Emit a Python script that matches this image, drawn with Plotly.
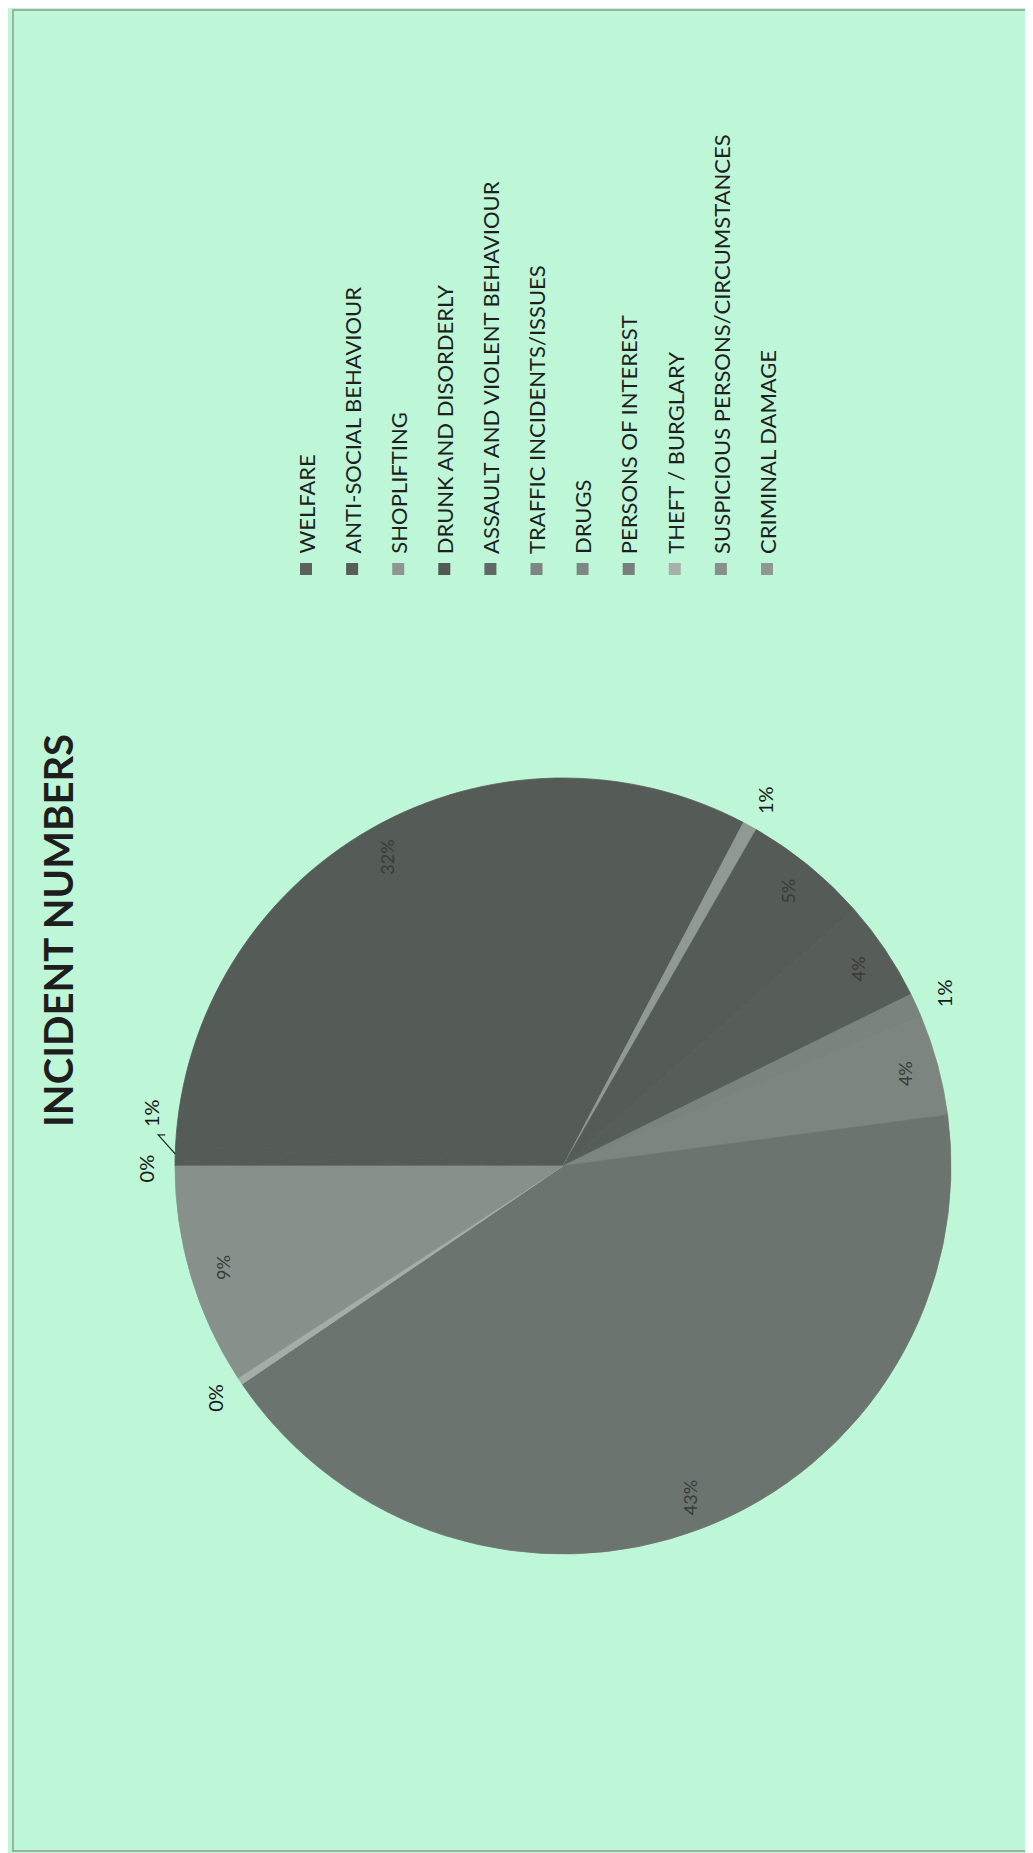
import math
import plotly.graph_objects as go

# ---------------- data ----------------
categories = [
    "WELFARE", "ANTI-SOCIAL BEHAVIOUR", "SHOPLIFTING", "DRUNK AND DISORDERLY",
    "ASSAULT AND VIOLENT BEHAVIOUR", "TRAFFIC INCIDENTS/ISSUES", "DRUGS",
    "PERSONS OF INTEREST", "THEFT / BURGLARY", "SUSPICIOUS PERSONS/CIRCUMSTANCES",
    "CRIMINAL DAMAGE",
]
shares = [0.2, 0.6, 31.9, 0.6, 5.2, 4.2, 1.0, 4.2, 42.6, 0.3, 9.2]  # percent
slice_colors = ["#555b57", "#555b57", "#555b57", "#909994", "#555b57", "#575d59",
                "#7a837e", "#7c8580", "#6c7470", "#a4ada8", "#88908b"]
swatch_colors = ["#5d625f", "#585d5a", "#8e9691", "#525854", "#626864", "#7d8580",
                 "#7f8782", "#777f7a", "#a8b0ab", "#88908b", "#8f9792"]
title_text = "INCIDENT NUMBERS"

# ---------------- layout constants (pixels) ----------------
W, H = 1033, 1853
BG = "#bef7d8"
CX, CY, R = 555, 1158, 388
R_IN, R_OUT = 355, 418
INSIDE_MIN = 3.0
OUT_NUDGE = {0: (1, 5), 1: (6, -40)}   # label nudges to avoid overlap
LEADER = {1}
FONT = "Lato"


def px(x):
    return x / W


def py(y):
    return 1 - y / H


fig = go.Figure()
fig.add_trace(go.Pie(
    labels=categories, values=shares, sort=False, direction="clockwise",
    rotation=270,
    marker=dict(colors=slice_colors, line=dict(color=slice_colors, width=0.8)),
    textinfo="none", hoverinfo="label+percent", showlegend=False,
    domain=dict(x=[px(CX - R), px(CX + R)], y=[py(CY + R), py(CY - R)]),
))

annotations = []
shapes = []

total = sum(shares)
cum = 0.0
for i, v in enumerate(shares):
    mid = (cum + v / 2) / total
    cum += v
    phi = math.radians(270 + 360 * mid)
    sx, sy = math.sin(phi), -math.cos(phi)
    label = f"{round(v / total * 100)}%"
    if v >= INSIDE_MIN:
        x, y = CX + R_IN * sx, CY + R_IN * sy
        annotations.append(dict(
            x=px(x), y=py(y), xref="paper", yref="paper", text=label,
            showarrow=False, textangle=-90, xanchor="center", yanchor="middle",
            font=dict(family=FONT, size=18, color="#373c39")))
    else:
        dx, dy = OUT_NUDGE.get(i, (0, 0))
        x, y = CX + R_OUT * sx + dx, CY + R_OUT * sy + dy
        annotations.append(dict(
            x=px(x), y=py(y), xref="paper", yref="paper", text=label,
            showarrow=False, textangle=-90, xanchor="center", yanchor="middle",
            font=dict(family=FONT, size=20, color="#1a1a1a")))
        if i in LEADER:
            ex, ey = CX + R * sx, CY + R * sy
            lx, ly = x + 7, y + 22
            shapes.append(dict(type="path", xref="paper", yref="paper",
                               path=f"M {px(lx + 7)} {py(ly)} L {px(lx)} {py(ly)} L {px(ex)} {py(ey)}",
                               line=dict(color="#222222", width=1.2)))

# title
annotations.append(dict(
    x=px(50), y=py(923), xref="paper", yref="paper", text=title_text,
    showarrow=False, textangle=-90, xanchor="center", yanchor="middle",
    font=dict(family=FONT, size=40, color="#1e1e1e", weight="bold")))

# custom (rotated) legend
LEG_X0, LEG_DX = 298, 46.1
SW_Y, SW = 561, 12
TXT_Y = 548
for i, (name, col) in enumerate(zip(categories, swatch_colors)):
    x = LEG_X0 + LEG_DX * i
    shapes.append(dict(type="rect", xref="paper", yref="paper",
                       x0=px(x - SW / 2), x1=px(x + SW / 2),
                       y0=py(SW_Y + SW / 2), y1=py(SW_Y - SW / 2),
                       fillcolor=col, line=dict(width=0)))
    annotations.append(dict(
        x=px(x), y=py(TXT_Y), xref="paper", yref="paper", text=name,
        showarrow=False, textangle=-90, xanchor="center", yanchor="bottom",
        font=dict(family=FONT, size=22, color="#1f1f1f")))

# page frame
shapes.append(dict(type="rect", xref="paper", yref="paper",
                   x0=px(5), x1=px(1026), y0=py(1843), y1=py(2),
                   line=dict(color="#8f9a94", width=1.5)))

fig.update_layout(
    width=W, height=H, margin=dict(l=0, r=0, t=0, b=0),
    paper_bgcolor=BG, plot_bgcolor=BG,
    annotations=annotations, shapes=shapes, showlegend=False,
)

fig.write_html("out.html")
